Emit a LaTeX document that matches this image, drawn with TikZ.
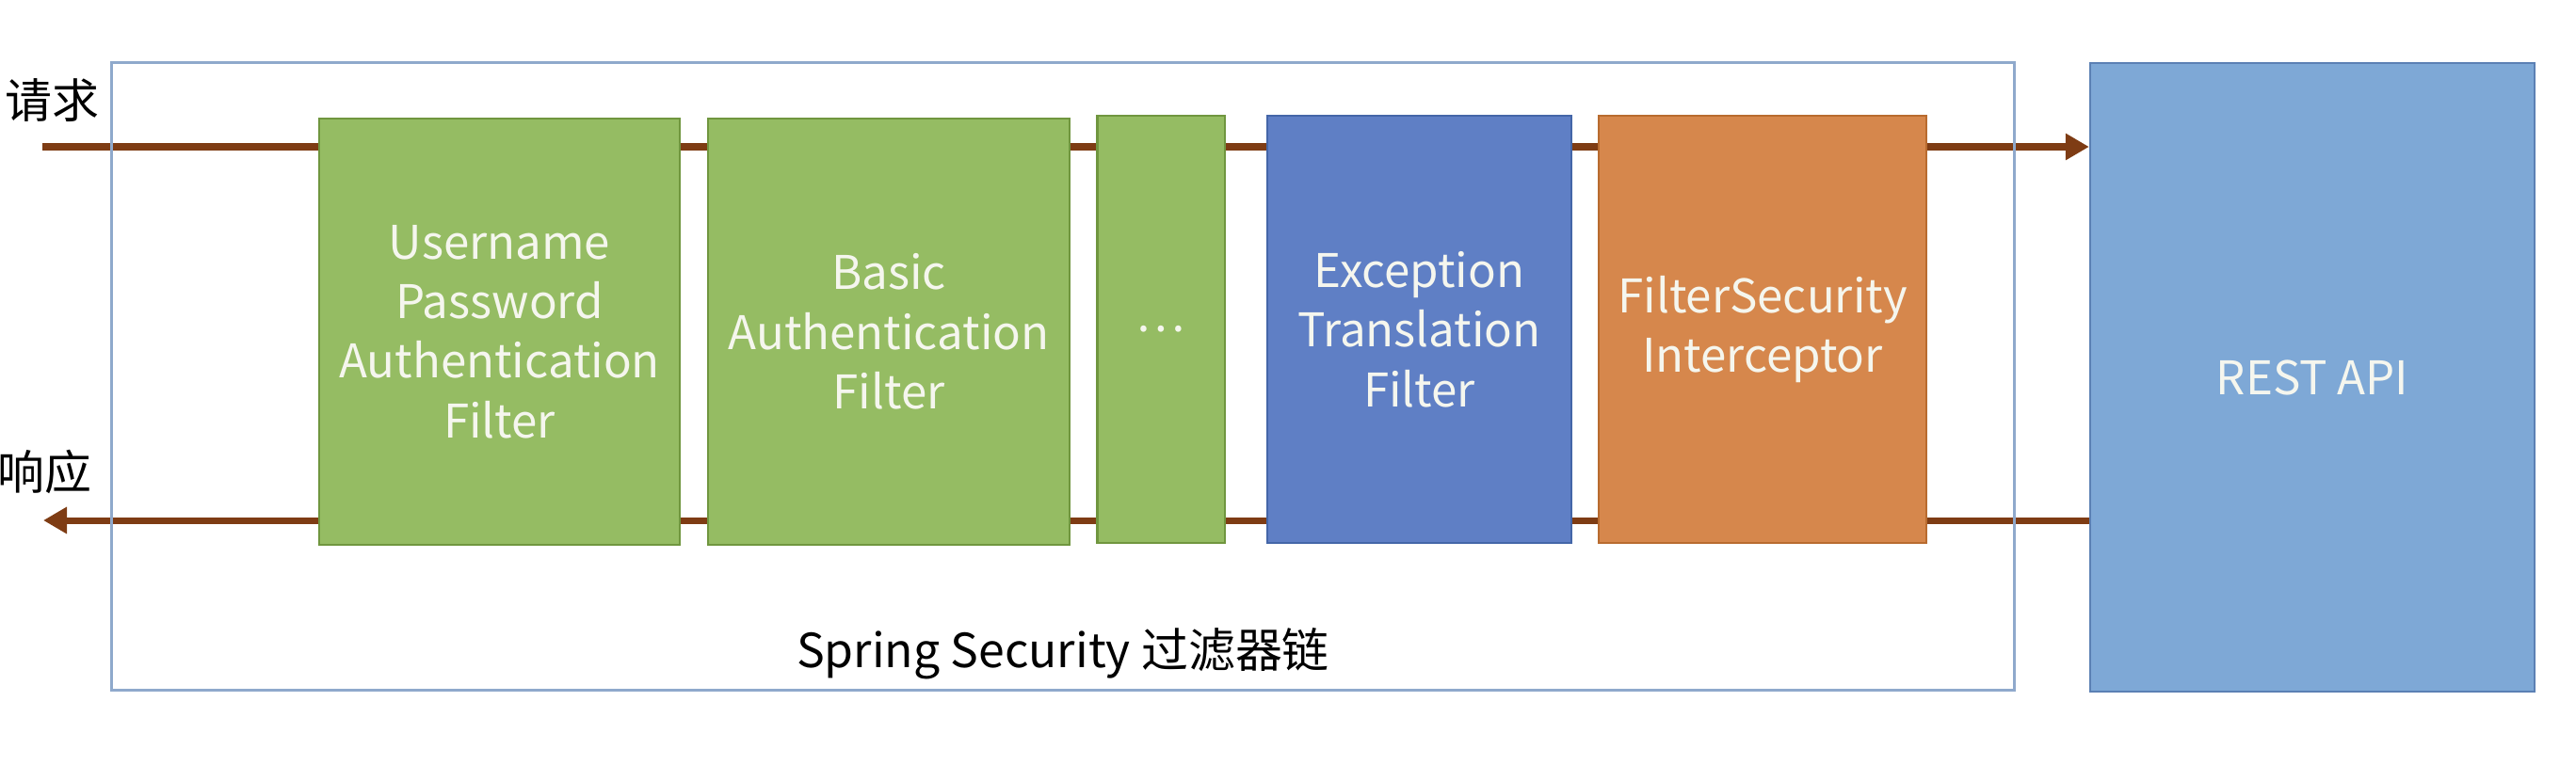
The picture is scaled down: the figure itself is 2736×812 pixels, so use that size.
\documentclass[tikz,border=0pt]{standalone}
\usepackage{fontspec}
\setmainfont{Noto Sans CJK SC}
\usetikzlibrary{arrows.meta,backgrounds}

\definecolor{flowbrown}{RGB}{126,60,20}
\definecolor{framecol}{RGB}{143,169,204}
\definecolor{fgreen}{RGB}{149,188,99}
\definecolor{fgreenline}{RGB}{112,150,63}
\definecolor{fblue}{RGB}{95,127,197}
\definecolor{fblueline}{RGB}{68,102,168}
\definecolor{forange}{RGB}{214,135,76}
\definecolor{forangeline}{RGB}{184,107,47}
\definecolor{apiblue}{RGB}{126,168,214}
\definecolor{apiline}{RGB}{91,128,180}
\definecolor{ftext}{RGB}{245,246,238}

\begin{document}
\begin{tikzpicture}[x=0.01cm,y=-0.01cm,
    fnode/.style={draw,line width=0.6pt,minimum height=4.54cm,inner sep=0pt,align=center,text=ftext,font=\fontsize{14}{18}\selectfont},
    gnode/.style={fnode,fill=fgreen,draw=fgreenline},
    flow/.style={line width=0.07cm,draw=flowbrown,-{Triangle[length=0.25cm,width=0.27cm]}},
    lbl/.style={font=\fontsize{14.2}{18}\selectfont,text=black,inner sep=0pt}]
    \useasboundingbox (0,0) rectangle (2736,812);

    \node[draw=framecol,line width=0.7pt,minimum width=20.2cm,minimum height=6.67cm,inner sep=0pt] (chain) at (1129,400) {};
    \node[gnode,minimum width=3.83cm,minimum height=4.53cm] (upaf) at (530.5,352.5) {Username\\Password\\Authentication\\Filter};
    \node[gnode,minimum width=3.84cm,minimum height=4.53cm] (basic) at (944,352.5) {Basic\\Authentication\\Filter};
    \node[gnode,minimum width=1.35cm] (more) at (1233,350) {…};
    \node[fnode,fill=fblue,draw=fblueline,minimum width=3.22cm] (etf) at (1507.5,350) {Exception\\Translation\\Filter};
    \node[fnode,fill=forange,draw=forangeline,minimum width=3.48cm] (fsi) at (1872,350) {FilterSecurity\\Interceptor};
    \node[fnode,fill=apiblue,draw=apiline,minimum width=4.72cm,minimum height=6.68cm] (api) at (2456,401) {REST API};

    \node[lbl,anchor=west] (req) at (5,107) {请求};
    \node[lbl,anchor=west] (res) at (-3,501) {响应};
    \node[lbl] (chainlbl) at (1129,695) {Spring Security 过滤器链};

    \coordinate (reqin) at (45,156);
    \coordinate (resout) at (46,553);
   \begin{scope}[on background layer]
    \draw[flow] (reqin) -- (reqin -| api.west);
    \draw[flow] (resout -| api.west) -- (resout);
   \end{scope}
\end{tikzpicture}
\end{document}
